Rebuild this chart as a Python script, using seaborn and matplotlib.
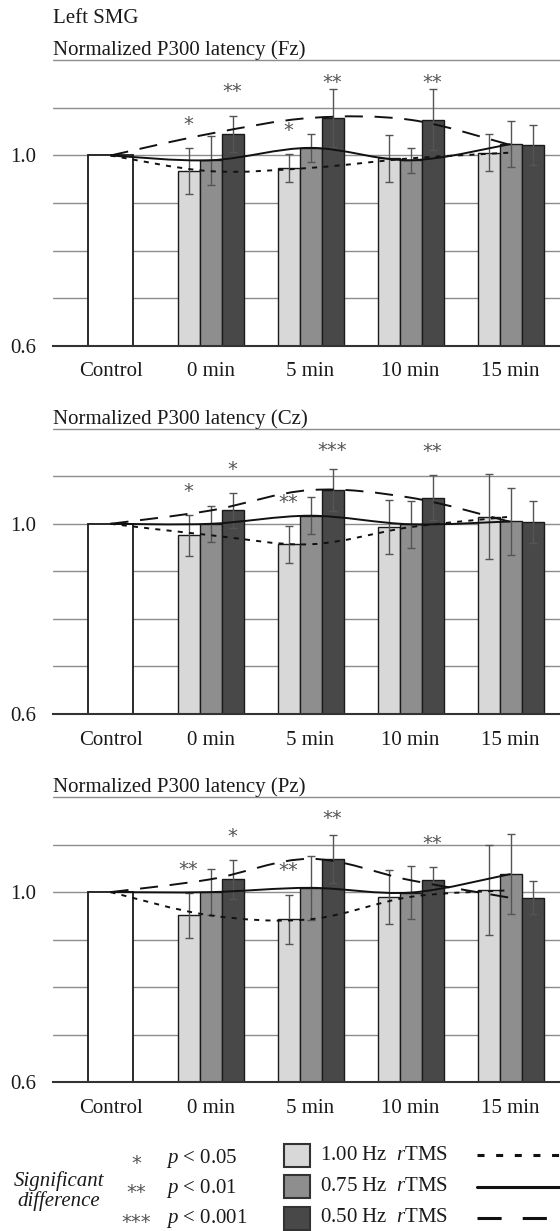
import numpy as np
import pandas as pd
import seaborn as sns
import matplotlib.pyplot as plt
from matplotlib.path import Path
from matplotlib.patches import PathPatch, Rectangle
from matplotlib.lines import Line2D

# categorias e séries
categories = ['Control', '0 min', '5 min', '10 min', '15 min']
times = ['0 min', '5 min', '10 min', '15 min']
series = ['1.00 Hz', '0.75 Hz', '0.50 Hz']
control_value = 1.0

# médias e erros (linhas = 1.00 / 0.75 / 0.50 Hz)
fz_mean = [[0.967, 0.974, 0.994, 1.006],
           [0.990, 1.016, 0.990, 1.024],
           [1.046, 1.079, 1.075, 1.022]]
fz_err = [[0.049, 0.030, 0.050, 0.039],
          [0.052, 0.029, 0.026, 0.048],
          [0.038, 0.061, 0.064, 0.043]]

cz_mean = [[0.976, 0.957, 0.993, 1.015],
           [1.000, 1.017, 0.999, 1.005],
           [1.028, 1.071, 1.055, 1.004]]
cz_err = [[0.043, 0.039, 0.057, 0.090],
          [0.038, 0.039, 0.049, 0.070],
          [0.036, 0.045, 0.048, 0.044]]

pz_mean = [[0.951, 0.943, 0.990, 1.004],
           [1.000, 1.009, 0.999, 1.038],
           [1.027, 1.070, 1.025, 0.988]]
pz_err = [[0.047, 0.052, 0.056, 0.095],
          [0.048, 0.067, 0.055, 0.084],
          [0.041, 0.051, 0.028, 0.035]]

# asteriscos: (tempo, índice da série, rótulo)
fz_stars = [('0 min', 0, '*'), ('0 min', 2, '**'), ('5 min', 0, '*'),
            ('5 min', 2, '**'), ('10 min', 2, '**')]
cz_stars = [('0 min', 0, '*'), ('0 min', 2, '*'), ('5 min', 0, '**'),
            ('5 min', 2, '***'), ('10 min', 2, '**')]
pz_stars = [('0 min', 0, '**'), ('0 min', 2, '*'), ('5 min', 0, '**'),
            ('5 min', 2, '**'), ('10 min', 2, '**')]

titles = ['Normalized P300 latency (Fz)', 'Normalized P300 latency (Cz)',
          'Normalized P300 latency (Pz)']
panels = list(zip(titles, [fz_mean, cz_mean, pz_mean], [fz_err, cz_err, pz_err],
                  [fz_stars, cz_stars, pz_stars]))

sig_marks = ['*', '**', '***']
sig_labels = [r'$\mathit{p}$ < 0.05', r'$\mathit{p}$ < 0.01', r'$\mathit{p}$ < 0.001']

bar_colors = ['#d8d8d8', '#8e8e8e', '#484848']
line_styles = [(0, (2.6, 3.2)), '-', (0, (9.3, 6.0))]
legend_styles = [(0, (2.3, 3.8)), '-', (0, (7.9, 6.9))]

sns.set_theme(style='white')
plt.rcParams['font.family'] = ['Liberation Serif', 'DejaVu Serif']
plt.rcParams['mathtext.fontset'] = 'custom'
plt.rcParams['mathtext.rm'] = 'Liberation Serif'
plt.rcParams['mathtext.it'] = 'Liberation Serif:italic'
plt.rcParams['text.color'] = '#1a1a1a'


def smooth_path(xs, ys):
    # curva suavizada tipo Excel (Catmull-Rom em Bezier)
    pts = np.column_stack([xs, ys])
    n = len(pts)
    verts, codes = [pts[0]], [Path.MOVETO]
    for i in range(n - 1):
        p0, p1, p2, p3 = pts[max(i - 1, 0)], pts[i], pts[i + 1], pts[min(i + 2, n - 1)]
        verts += [p1 + (p2 - p0) / 6, p2 - (p3 - p1) / 6, p2]
        codes += [Path.CURVE4] * 3
    return Path(verts, codes)


fig = plt.figure(figsize=(5.6, 12.31), dpi=100)
bottoms = [0.7192, 0.4200, 0.1208]

for (title, means, errs, stars), bottom in zip(panels, bottoms):
    ax = fig.add_axes([0.0952, bottom, 0.9048, 0.2325])

    ctrl = pd.DataFrame({'time': ['Control'], 'value': [control_value]})
    df = pd.DataFrame({'time': np.tile(times, len(series)),
                       'series': np.repeat(series, len(times)),
                       'value': np.ravel(means)})

    sns.barplot(data=ctrl, x='time', y='value', order=categories, color='white',
                saturation=1, edgecolor='#1a1a1a', linewidth=1.3, width=0.455,
                errorbar=None, ax=ax)
    sns.barplot(data=df, x='time', y='value', hue='series', order=categories,
                hue_order=series, palette=bar_colors, saturation=1,
                edgecolor='#1a1a1a', linewidth=1.0, width=0.66, errorbar=None,
                legend=False, ax=ax)

    # barras de erro e asteriscos sobre as barras desenhadas
    centers = {}
    for k, cont in enumerate(ax.containers[-3:]):
        bars = [b for b in cont if np.isfinite(b.get_height())]
        xs = [b.get_x() + b.get_width() / 2 for b in bars]
        hs = [b.get_height() for b in bars]
        ax.errorbar(xs, hs, yerr=errs[k], fmt='none', ecolor='#555555',
                    elinewidth=1.0, capsize=3, capthick=1.0, zorder=4)
        centers[k] = xs

    for t, k, label in stars:
        i = times.index(t)
        top = means[k][i] + errs[k][i]
        ax.text(centers[k][i], min(top + 0.05, 1.155) - 0.012, label, ha='center',
                va='baseline', fontsize=14, color='#555555', family='DejaVu Sans')

    # linhas suavizadas das médias
    xpos = ax.get_xticks()
    for k in range(len(series)):
        ys = [control_value] + list(means[k])
        ax.add_patch(PathPatch(smooth_path(xpos, ys), fill=False, edgecolor='#111111',
                               lw=1.4, linestyle=line_styles[k], zorder=5))

    ax.set_xlim(-0.572, 4.495)
    ax.set_ylim(0.6, 1.202)
    ax.set_yticks(np.arange(0.6, 1.21, 0.1))
    ax.set_yticklabels(['0.6', '', '', '', '1.0', '', ''])
    ax.grid(axis='y', color='#8c8c8c', lw=1.0)
    ax.set_axisbelow(True)
    for s in ['left', 'right', 'top']:
        ax.spines[s].set_visible(False)
    ax.spines['bottom'].set_color('#333333')
    ax.spines['bottom'].set_linewidth(1.5)
    ax.tick_params(length=0, labelsize=15, colors='#1a1a1a')
    ax.tick_params(axis='x', pad=12)
    ax.tick_params(axis='y', pad=12)
    ax.set_xlabel('')
    ax.set_ylabel('')
    ax.set_title(title, loc='left', fontsize=15, pad=3)

# camada de texto e legenda em coordenadas de pixel
lax = fig.add_axes([0, 0, 1, 1])
lax.set_xlim(0, 560)
lax.set_ylim(1231, 0)
lax.axis('off')

lax.text(53.3, 18.3, 'Left SMG', fontsize=15, ha='left', va='center')

lax.text(58.7, 1191, 'Significant\ndifference', fontsize=15, style='italic',
         ha='center', va='center', linespacing=1.05)
for y, mark, lab in zip([1159, 1188, 1218], sig_marks, sig_labels):
    lax.text(136, y + 10, mark, ha='center', va='baseline', fontsize=14,
             color='#555555', family='DejaVu Sans')
    lax.text(165.7, y, lab, ha='left', va='center', fontsize=15)

for y, s, col, ls in zip([1155, 1186.5, 1218], series, bar_colors, legend_styles):
    lax.add_patch(Rectangle((284, y - 11.5), 25.5, 23, facecolor=col,
                            edgecolor='#333333', lw=1.5))
    lax.text(320, y, s + r'  $\mathit{r}$TMS', ha='left', va='center', fontsize=15)
    lax.add_line(Line2D([476.7, 566], [y, y], color='#111111', lw=2.2, linestyle=ls))

fig.savefig('out.png', dpi=100)
